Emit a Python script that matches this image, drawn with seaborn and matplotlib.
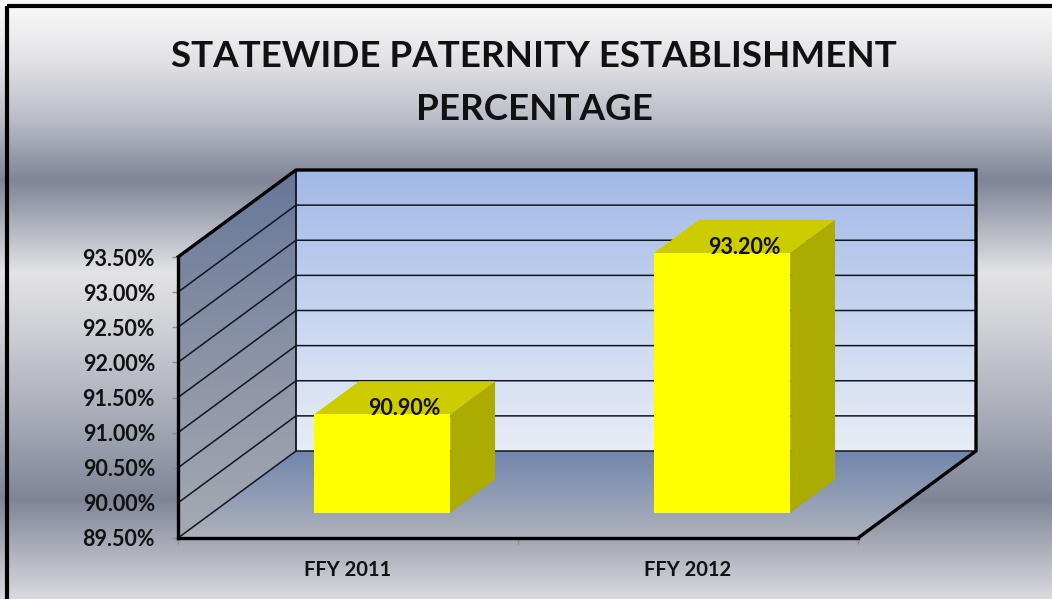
import numpy as np
import matplotlib
matplotlib.use("Agg")
import matplotlib.pyplot as plt
import matplotlib.transforms as mtransforms
from matplotlib.colors import LinearSegmentedColormap
from matplotlib.patches import Polygon, Rectangle
from matplotlib.ticker import FixedLocator
import seaborn as sns

# data
categories = ["FFY 2011", "FFY 2012"]
values = [90.90, 93.20]
y_ticks = [89.5, 90.0, 90.5, 91.0, 91.5, 92.0, 92.5, 93.0, 93.5]
title_lines = ["STATEWIDE PATERNITY ESTABLISHMENT", "PERCENTAGE"]

W, H = 1052, 599
DEPTH = (118, 87)          # pixel shift from front plane to back wall
BAR_D0, BAR_D1 = 0.29, 0.67  # bar front / back depth (fraction)

sns.set_theme(style="white")
plt.rcParams["font.family"] = ["Lato", "DejaVu Sans"]

fig = plt.figure(figsize=(W / 100, H / 100), dpi=100)
bg = fig.add_axes([0, 0, 1, 1], zorder=0)
ax = fig.add_axes([178 / W, 61 / H, 680 / W, 281 / H], zorder=1)
ax.patch.set_alpha(0)

# bars (front faces) through seaborn
sns.barplot(x=categories, y=values, width=0.4, color="#ffff00", saturation=1,
            errorbar=None, ax=ax)
ax.set_xlim(-0.5, len(categories) - 0.5)
ax.set_ylim(y_ticks[0], y_ticks[-1])
ax.set_xlabel("")
ax.set_ylabel("")


def setup_bg():
    bg.set_xlim(0, W)
    bg.set_ylim(H, 0)
    bg.axis("off")


def pt(x, y, d):
    # data point on front plane pushed back by depth d, in bg (pixel) coords
    px, py = ax.transData.transform((x, y))
    return bg.transData.inverted().transform((px + DEPTH[0] * d, py + DEPTH[1] * d))


def grad_fill(pts, stops, z):
    pts = np.asarray(pts)
    cmap = LinearSegmentedColormap.from_list("g", stops)
    img = np.linspace(0, 1, 256).reshape(-1, 1)
    im = bg.imshow(img, cmap=cmap, aspect="auto", interpolation="bilinear",
                   extent=(pts[:, 0].min(), pts[:, 0].max(), pts[:, 1].max(), pts[:, 1].min()),
                   zorder=z)
    poly = Polygon(pts, closed=True, facecolor="none", edgecolor="none")
    bg.add_patch(poly)
    im.set_clip_path(poly)


setup_bg()

# page background
page_stops = [(0.0, "#fafafa"), (60 / H, "#e2e2e5"), (120 / H, "#b9bcc6"),
              (180 / H, "#7f8597"), (272 / H, "#e3e3e5"), (330 / H, "#cfd0d5"),
              (420 / H, "#a7abb7"), (500 / H, "#7f8597"), (1.0, "#d9d9dd")]
grad_fill([(0, 0), (W, 0), (W, H), (0, H)], page_stops, 0)

x0, x1 = -0.5, len(categories) - 0.5
y0, y1 = y_ticks[0], y_ticks[-1]

# walls and floor
back = [pt(x0, y1, 1), pt(x1, y1, 1), pt(x1, y0, 1), pt(x0, y0, 1)]
side = [pt(x0, y1, 0), pt(x0, y1, 1), pt(x0, y0, 1), pt(x0, y0, 0)]
floor = [pt(x0, y0, 0), pt(x0, y0, 1), pt(x1, y0, 1), pt(x1, y0, 0)]
grad_fill(back, ["#a1b9e6", "#c6d5ef", "#e8edf6"], 1)
grad_fill(side, ["#67779a", "#8a93a6", "#a5a9b1"], 1)
grad_fill(floor, ["#7186ad", "#aeb2bb"], 1)

# gridlines on back and side walls
for v in y_ticks[:-1]:
    a, b, c = pt(x0, v, 0), pt(x0, v, 1), pt(x1, v, 1)
    bg.plot([a[0], b[0], c[0]], [a[1], b[1], c[1]], color="#111522", lw=1.1, zorder=2)
bl_top, bl_bot = pt(x0, y1, 1), pt(x0, y0, 1)
bg.plot([bl_top[0], bl_bot[0]], [bl_top[1], bl_bot[1]], color="#111522", lw=1.3, zorder=2)

# heavy outline
edge = [pt(x0, y1, 0), pt(x0, y1, 1), pt(x1, y1, 1), pt(x1, y0, 1), pt(x1, y0, 0)]
edge = np.asarray(edge)
bg.plot(edge[:, 0], edge[:, 1], color="black", lw=2.4, zorder=3,
        solid_joinstyle="miter", solid_capstyle="projecting")

# 3D faces of the bars
base = y_ticks[0]
front_tr = mtransforms.offset_copy(ax.transData, fig=fig, x=DEPTH[0] * BAR_D0,
                                   y=DEPTH[1] * BAR_D0, units="dots")
for p in ax.patches:
    bx, bw, v = p.get_x(), p.get_width(), p.get_height()
    p.set_y(base)
    p.set_height(v - base)
    p.set_transform(front_tr)
    p.set_clip_on(False)
    p.set_edgecolor("none")
    top = [pt(bx, v, BAR_D0), pt(bx + bw, v, BAR_D0), pt(bx + bw, v, BAR_D1), pt(bx, v, BAR_D1)]
    rside = [pt(bx + bw, base, BAR_D0), pt(bx + bw, v, BAR_D0),
             pt(bx + bw, v, BAR_D1), pt(bx + bw, base, BAR_D1)]
    bg.add_patch(Polygon(top, closed=True, facecolor="#cccc00", edgecolor="none", zorder=4))
    bg.add_patch(Polygon(rside, closed=True, facecolor="#acac00", edgecolor="none", zorder=4))

# value labels on the bar tops
mid = (BAR_D0 + BAR_D1) / 2
lbl_tr = mtransforms.offset_copy(ax.transData, fig=fig, x=DEPTH[0] * mid,
                                 y=DEPTH[1] * mid - 11, units="dots")
for i, v in enumerate(values):
    ax.text(i, v, f"{v:.2f}%", transform=lbl_tr, ha="center", va="center",
            fontsize=15.5, fontweight="bold", color="#111111", zorder=5)

# axes styling
for s in ["top", "right"]:
    ax.spines[s].set_visible(False)
for s in ["left", "bottom"]:
    ax.spines[s].set_color("black")
    ax.spines[s].set_linewidth(2.4)
ax.set_yticks(y_ticks)
ax.set_yticklabels([f"{t:.2f}%" for t in y_ticks])
ax.tick_params(axis="y", left=True, length=4.5, width=1, color="#8a8a8a", pad=12,
               labelsize=15.5, labelcolor="#111111")
ax.xaxis.set_minor_locator(FixedLocator([-0.5, 0.5, 1.5]))
ax.tick_params(axis="x", which="major", bottom=True, length=0, pad=16,
               labelsize=14.5, labelcolor="#111111")
ax.tick_params(axis="x", which="minor", bottom=True, length=4, width=1, color="#8a8a8a")
for lab in ax.get_xticklabels() + ax.get_yticklabels():
    lab.set_fontweight("bold")

# title
fig.text(534 / W, 1 - 67 / H, title_lines[0], ha="center", va="baseline",
         fontsize=26.5, fontweight="bold", color="#111111")
fig.text(534 / W, 1 - 120 / H, title_lines[1], ha="center", va="baseline",
         fontsize=26.5, fontweight="bold", color="#111111")

# outer frame (cropped at right and bottom)
bg.add_patch(Rectangle((7, 6), W + 20, H + 20, facecolor="none", edgecolor="black",
                       lw=3, zorder=6, clip_on=False))
setup_bg()

fig.savefig("out.png", dpi=100)
